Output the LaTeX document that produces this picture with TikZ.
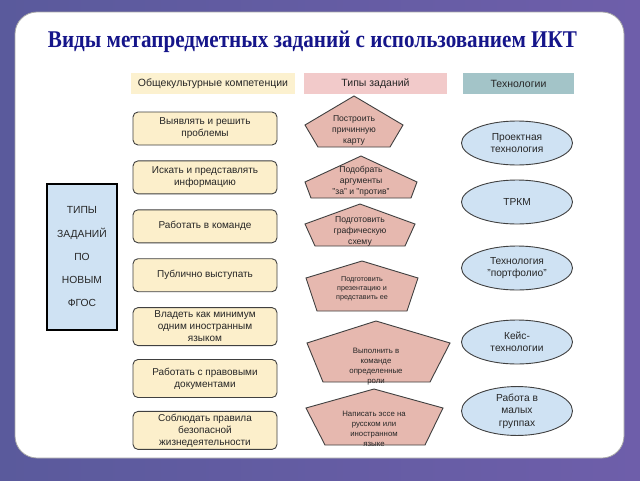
\documentclass[tikz,border=0pt]{standalone}
\usepackage{fontspec}
\setmainfont{Liberation Sans}
\newfontfamily\titlefont[FakeStretch=0.88]{Liberation Serif}
\usepackage{xcolor}
\usetikzlibrary{positioning, shapes.geometric}

\definecolor{bgleft}{HTML}{5A5A9C}
\definecolor{bgright}{HTML}{6E5EAA}
\definecolor{titleblue}{HTML}{15158A}
\definecolor{hdryellow}{HTML}{FCF1CF}
\definecolor{hdrpink}{HTML}{F2CACA}
\definecolor{hdrteal}{HTML}{A3C4C8}
\definecolor{compfill}{HTML}{FCEFCB}
\definecolor{pentfill}{HTML}{E6B8AF}
\definecolor{techfill}{HTML}{CFE2F3}

\begin{document}
\begin{tikzpicture}[
    x=1pt, y=-1pt,
    node distance=15pt,
    hdr/.style={rectangle, fill=#1, minimum height=21pt, inner sep=0pt, font=\fontsize{10.5}{12}\selectfont, text=black!85},
    comp/.style={rectangle, rounded corners=5pt, draw=black!75, line width=0.9pt, fill=compfill, minimum width=144pt, minimum height=33pt, align=center, inner sep=1pt, font=\fontsize{10}{12}\selectfont, text=black!85},
    tech/.style={ellipse, draw=black!75, line width=0.9pt, fill=techfill, minimum width=111pt, minimum height=44pt, align=center, inner sep=0pt, font=\fontsize{10.2}{12.5}\selectfont, text=black!85},
    pent/.style={draw=black!75, line width=0.9pt, fill=pentfill, line join=miter},
    ptxt/.style={align=center, inner sep=0pt, font=\fontsize{8.6}{11}\selectfont, text=black!85},
    psmall/.style={font=\fontsize{#1}{10}\selectfont}
]
\useasboundingbox (0,0) rectangle (640,480);

% slide background
\shade[left color=bgleft, right color=bgright] (0,0) rectangle (640,480);
\draw[fill=white, draw=black!35, line width=0.8pt, rounded corners=22pt] (15,12) rectangle (624,458);

\node[font=\titlefont\bfseries\fontsize{24}{28}\selectfont, text=titleblue] (title) at (312.5,42) {Виды метапредметных заданий с использованием ИКТ};

% column headers
\node[hdr=hdryellow, minimum width=164pt] (hcomp) at (213,83.5) {Общекультурные компетенции};
\node[hdr=hdrpink, minimum width=143pt] (htask) at (375.5,83.5) {Типы заданий};
\node[hdr=hdrteal, minimum width=111pt] (htech) at (518.5,83.5) {Технологии};

% left block
\node[rectangle, draw=black, line width=1.5pt, fill=techfill, minimum width=70pt, minimum height=146pt, align=center, font=\fontsize{10.3}{23.25}\selectfont, text=black!85] (fgos) at (82,257) {ТИПЫ\\ЗАДАНИЙ\\ПО\\НОВЫМ\\ФГОС};

% competences
\node[comp] (c1) at (205,128.5) {Выявлять и решить\\проблемы};
\node[comp, below=of c1] (c2) {Искать и представлять\\информацию};
\node[comp, below=of c2] (c3) {Работать в команде};
\node[comp, below=of c3] (c4) {Публично выступать};
\node[comp, below=of c4, minimum height=38pt] (c5) {Владеть как минимум\\одним иностранным\\языком};
\node[comp, below=13pt of c5, minimum height=38pt] (c6) {Работать с правовыми\\документами};
\node[comp, below=13pt of c6, minimum height=38pt] (c7) {Соблюдать правила\\безопасной\\жизнедеятельности};

% task types
\draw[pent] (305,125) -- (354,96) -- (403,125) -- (390,147) -- (318,147) -- cycle;
\node[ptxt] (t1) at (354,130) {Построить\\причинную\\карту};
\draw[pent] (305,182) -- (361,156) -- (417,182) -- (411,198) -- (311,198) -- cycle;
\node[ptxt] (t2) at (361,181) {Подобрать\\аргументы\\"за" и "против"};
\draw[pent] (305,224) -- (360,204) -- (415,224) -- (405,246) -- (315,246) -- cycle;
\node[ptxt] (t3) at (360,231) {Подготовить\\графическую\\схему};
\draw[pent] (306,278) -- (362,261) -- (418,278) -- (407,311) -- (317,311) -- cycle;
\node[ptxt, font=\fontsize{7.2}{8.8}\selectfont] (t4) at (362,289) {Подготовить\\презентацию и\\представить ее};
\draw[pent] (307,343) -- (376,321) -- (450,343) -- (430,382) -- (323,382) -- cycle;
\node[ptxt, psmall=7.8] (t5) at (376,367) {Выполнить в\\команде\\определенные\\роли};
\draw[pent] (306,408) -- (374,389) -- (443,408) -- (425,445) -- (325,445) -- cycle;
\node[ptxt, psmall=7.8] (t6) at (374,429) {Написать эссе на\\русском или\\иностранном\\языке};

% technologies
\node[tech] (e1) at (517,143) {Проектная\\технология};
\node[tech] (e2) at (517,202) {ТРКМ};
\node[tech] (e3) at (517,268) {Технология\\"портфолио"};
\node[tech] (e4) at (517,342) {Кейс-\\технологии};
\node[tech] (e5) at (517,411) {Работа в\\малых\\группах};

\end{tikzpicture}
\end{document}
